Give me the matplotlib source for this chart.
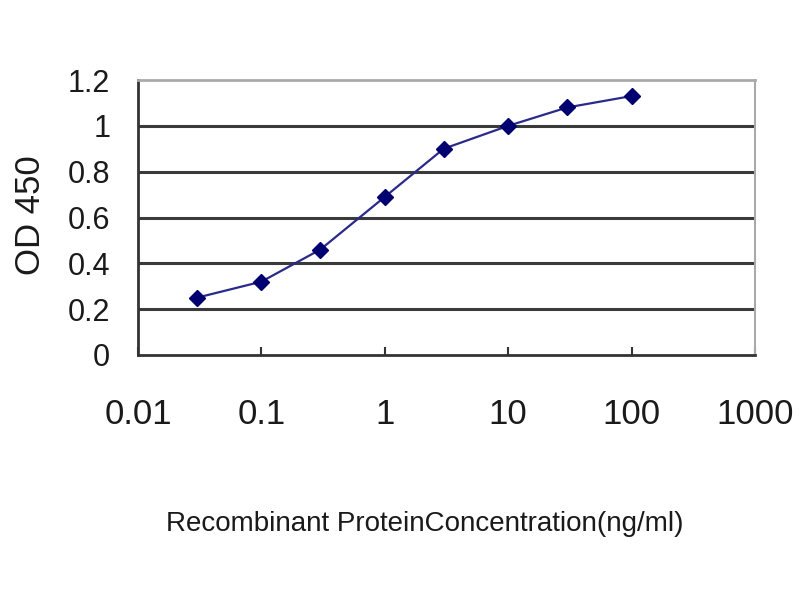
import matplotlib
matplotlib.use('Agg')
import matplotlib.pyplot as plt
import numpy as np

# ELISA standard curve
conc = [0.03, 0.1, 0.3, 1, 3, 10, 30, 100]
od450 = [0.25, 0.32, 0.46, 0.69, 0.90, 1.00, 1.08, 1.13]

yticks = [0, 0.2, 0.4, 0.6, 0.8, 1.0, 1.2]
ytick_labels = ['0', '0.2', '0.4', '0.6', '0.8', '1', '1.2']
xticks = [0.01, 0.1, 1, 10, 100, 1000]
xtick_labels = ['0.01', '0.1', '1', '10', '100', '1000']

plt.rcParams['font.family'] = ['Liberation Sans', 'DejaVu Sans']

fig = plt.figure(figsize=(8, 6), dpi=100)
ax = fig.add_axes([138/800, 1 - 355/600, (755-138)/800, (355-80)/600])

ax.set_xscale('log')
ax.set_xlim(0.01, 1000)
ax.set_ylim(0, 1.2)

for y in yticks[1:-1]:
    ax.axhline(y, color='#3a3a3a', lw=2.2, zorder=1)

ax.plot(conc, od450, color='#2a2a8a', lw=1.6, marker='D', ms=8.5,
        mfc='#000070', mec='#000070', zorder=3)

ax.set_yticks(yticks)
ax.set_yticklabels(ytick_labels, fontsize=22, color='#1a1a1a')
ax.set_xticks(xticks)
ax.set_xticklabels(xtick_labels, fontsize=25, color='#1a1a1a')
ax.minorticks_off()
ax.tick_params(axis='x', direction='in', length=6, width=1.5, pad=31, color='#333333')
ax.tick_params(axis='y', length=0, pad=20)

ax.spines['left'].set_color('#333333')
ax.spines['left'].set_linewidth(2)
ax.spines['bottom'].set_color('#333333')
ax.spines['bottom'].set_linewidth(2)
ax.spines['top'].set_color('#aaaaaa')
ax.spines['top'].set_linewidth(2)
ax.spines['right'].set_color('#aaaaaa')
ax.spines['right'].set_linewidth(1.5)

fig.text(30/800, 1 - 215/600, 'OD 450', rotation=90, fontsize=25,
         color='#1a1a1a', ha='center', va='center')
fig.text(425/800, 1 - 524/600, 'Recombinant ProteinConcentration(ng/ml)',
         fontsize=20, color='#1a1a1a', ha='center', va='center')

fig.savefig('out.png', dpi=100)
